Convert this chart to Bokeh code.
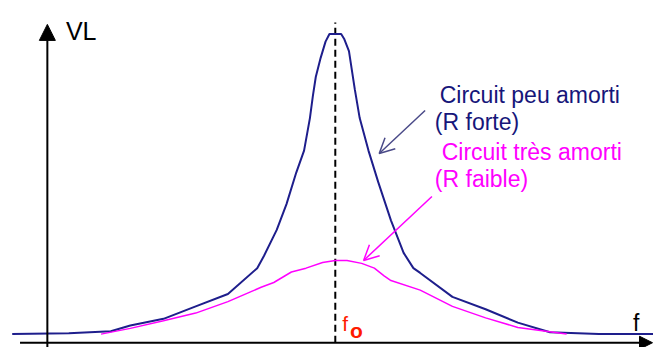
from bokeh.plotting import figure
from bokeh.models import Range1d, Label, Arrow, NormalHead, OpenHead
from bokeh.embed import file_html
from bokeh.resources import INLINE

# Frequency (arbitrary units, y-axis at f = 0, resonance f0 = 295) and VL (arbitrary units)
f0 = 295
f_blue = [-36, 22, 65, 85, 119, 152, 185, 215, 222, 235, 245, 255, 263, 269, 272,
          275, 280, 285, 289, 295, 301, 304, 309, 315, 320, 329, 339, 352, 365, 375,
          382, 415, 449, 482, 515, 565, 621]
vl_blue = [0, 1, 3, 9, 16, 29, 42, 69, 82, 109, 136, 169, 192, 226, 249,
           269, 289, 306, 314, 314, 314, 309, 296, 256, 226, 192, 159, 119, 85, 69,
           64, 39, 26, 12, 2, 0, 0]

f_mag = [55, 85, 119, 152, 185, 219, 232, 250, 265, 282, 295, 307, 322, 335, 345,
         352, 382, 415, 449, 482, 532]
vl_mag = [0, 6, 14, 22, 34, 49, 54, 65, 69, 75, 77, 77, 74, 69, 61,
          56, 46, 29, 17, 7, 0]

label_vl = "VL"
label_f = "f"
label_blue = ["Circuit peu amorti", "(R forte)"]
label_mag = ["Circuit très amorti", "(R faible)"]

NAVY = "#1e1e8c"
TXT_NAVY = "#16167a"
MAG = "#ff00ff"
FONT = "Liberation Sans"

p = figure(width=653, height=347, x_range=Range1d(-48, 621), y_range=Range1d(-14, 349),
           output_backend="svg", toolbar_location=None,
           x_axis_location=None, y_axis_location=None,
           min_border=0, min_border_left=0, min_border_right=0,
           min_border_top=0, min_border_bottom=0)
p.grid.visible = False
p.outline_line_color = None
p.background_fill_color = "white"
p.border_fill_color = "white"

# axes with arrows
p.add_layout(Arrow(end=NormalHead(size=16, fill_color="black", line_color="black"),
                   x_start=0, y_start=-14, x_end=0, y_end=324,
                   line_color="black", line_width=2))
p.add_layout(Arrow(end=NormalHead(size=13, fill_color="black", line_color="black"),
                   x_start=-28, y_start=-9, x_end=620, y_end=-9,
                   line_color="black", line_width=2))

# dashed resonance line
p.segment(x0=[f0], y0=[-9], x1=[f0], y1=[326], line_color="black",
          line_width=2, line_dash="7 4")

# curves
p.line(f_blue, vl_blue, line_color=NAVY, line_width=2)
p.line(f_mag, vl_mag, line_color=MAG, line_width=1.5)

# pointing arrows
p.add_layout(Arrow(end=OpenHead(size=15, line_color="#4a4a88", line_width=1.5),
                   x_start=387, y_start=234, x_end=340, y_end=189,
                   line_color="#4a4a88", line_width=1.5))
p.add_layout(Arrow(end=OpenHead(size=15, line_color=MAG, line_width=1.5),
                   x_start=394, y_start=144, x_end=324, y_end=77,
                   line_color=MAG, line_width=1.5))

def lab(x, y, t, color, size, style="normal"):
    p.add_layout(Label(x=x, y=y, text=t, text_color=color, text_font=FONT,
                       text_font_size=size, text_font_style=style,
                       text_baseline="alphabetic", text_align="left"))

lab(19, 317, label_vl, "black", "25px")
lab(600, 12, label_f, "black", "23px")
lab(302, 11, "f", "#ff1a00", "21px")
lab(310, 4, "o", "#ff1a00", "21px", "bold")
lab(402, 250, label_blue[0], TXT_NAVY, "23px")
lab(397, 222, label_blue[1], TXT_NAVY, "23px")
lab(404, 190, label_mag[0], MAG, "23px")
lab(397, 162, label_mag[1], MAG, "23px")

open("out.html", "w").write(file_html(p, INLINE))
